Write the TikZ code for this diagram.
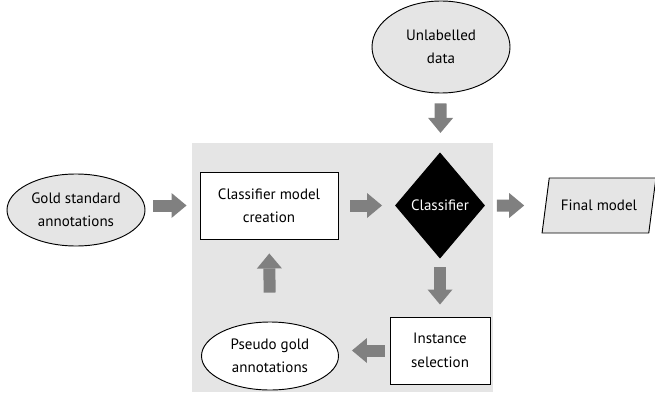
\documentclass[tikz,border=0pt]{standalone}
\usepackage{fontspec}
\setmainfont{PT Sans}
\usetikzlibrary{shapes.geometric,arrows.meta}
\definecolor{bggray}{gray}{0.9}
\definecolor{arrowgray}{gray}{0.5}
\tikzset{
    oval/.style={draw,ellipse,fill=bggray,inner sep=0pt},
    box/.style={draw,fill=white,inner sep=0pt},
    flow/.style={draw=arrowgray,line width=3.6mm,-{Triangle[length=4.5mm,width=7.5mm,line width=0pt]}}
}
\begin{document}
\begin{tikzpicture}[x=0.3mm,y=-0.3mm,font=\fontsize{12.8}{20}\selectfont,
        every node/.style={align=center,line width=0.8pt}]
        \useasboundingbox (0,0) rectangle (655,392);
        \fill[bggray] (192,143) rectangle (493,392);

        \node[oval,minimum width=41.4mm,minimum height=21.6mm] (gold) at (76,210) {Gold standard\\annotations};
        \node[oval,minimum width=41.4mm,minimum height=27.6mm] (unl) at (441,47) {Unlabelled\\data};
        \node[box,minimum width=41.4mm,minimum height=20.1mm] (cmc) at (269,205.5) {Classifier model\\creation};
        \node[draw,diamond,fill=black,text=white,inner sep=0pt,minimum width=26.7mm,minimum height=31.5mm] (cl) at (440,205.5) {Classifier};
        \node[draw,trapezium,trapezium stretches=true,trapezium left angle=72,trapezium right angle=108,fill=bggray,minimum width=34.2mm,minimum height=16.5mm] (final) at (599,205.5) {Final model};
        \node[box,minimum width=30mm,minimum height=20.1mm] (inst) at (440,350.5) {Instance\\selection};
        \node[oval,fill=white,minimum width=41.1mm,minimum height=20.4mm] (pg) at (270,356) {Pseudo gold\\annotations};

        \draw[flow,shorten <=2.4mm,shorten >=3.9mm] (gold.east |- cmc) -- (cmc);
        \draw[flow,shorten <=3.6mm,shorten >=3.9mm] (cmc) -- (cl);
        \draw[flow,shorten <=3mm,shorten >=6mm] (unl) -- (cl);
        \draw[flow,shorten <=3.6mm,shorten >=6.3mm] (cl) -- (final);
        \draw[flow,shorten <=2.7mm,shorten >=3.6mm] (cl) -- (inst);
        \draw[flow,shorten <=1.5mm,shorten >=3.9mm] (inst) -- (inst -| pg.east);
        \draw[flow,shorten <=8.7mm,shorten >=4.2mm] (pg) -- (cmc);
    \end{tikzpicture}
\end{document}
